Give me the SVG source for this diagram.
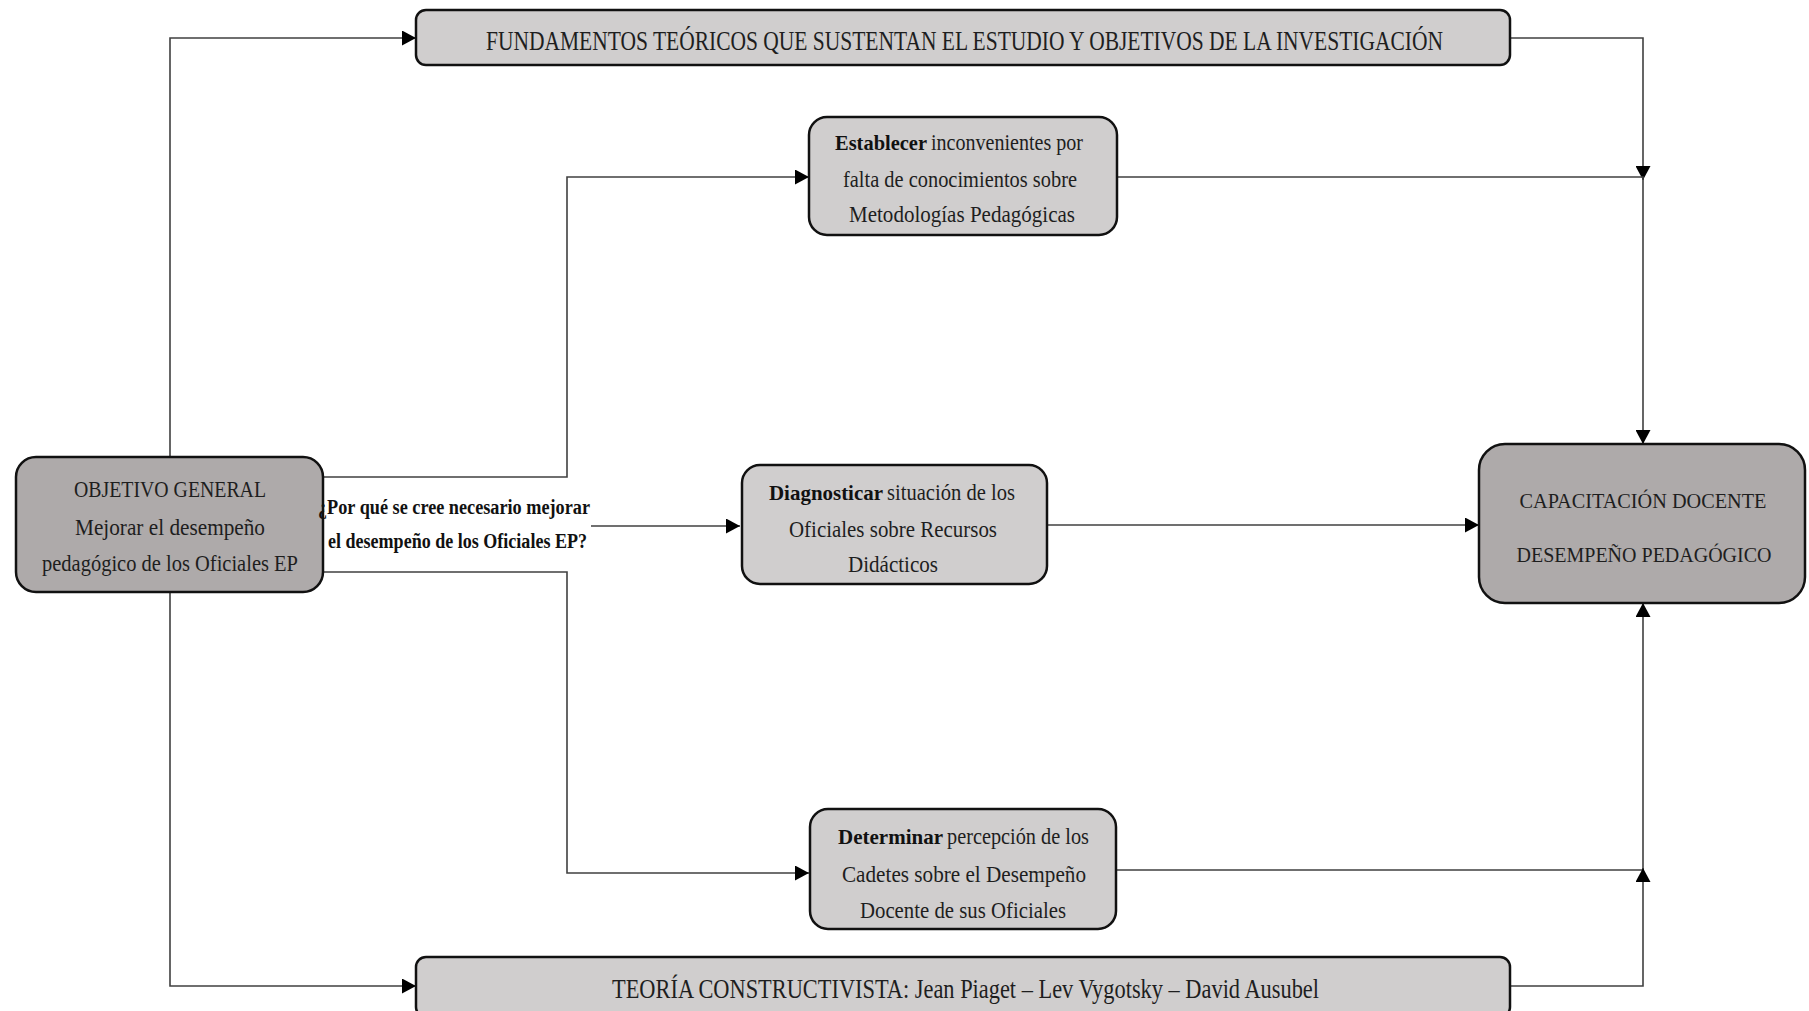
<svg xmlns="http://www.w3.org/2000/svg" width="1809" height="1011" viewBox="0 0 1809 1011">
<style>
  .light { fill: #d0cece; stroke: #111; stroke-width: 2.5; }
  .dark { fill: #aeaaaa; stroke: #111; stroke-width: 2.5; }
  .t { font-family: "Liberation Serif", "DejaVu Serif", serif; fill: #1e1e1e; }
  .caps { font-size: 27px; }
  .body { font-size: 23px; }
  .bw { font-size: 21px; font-weight: bold; fill: #111; }
  .b { font-weight: bold; fill: #111; }
  .conn { fill: none; stroke: #404040; stroke-width: 1.6; }
</style>
<defs>
  <marker id="arr" markerUnits="userSpaceOnUse" markerWidth="15" markerHeight="15" refX="14" refY="7.5" orient="auto">
    <path d="M0,0 L14,7.5 L0,15 z" fill="#000"/>
  </marker>
</defs>
<rect width="1809" height="1011" fill="#fff"/>

<g id="connectors">
  <path class="conn" d="M170,457 V38 H416" marker-end="url(#arr)"/>
  <path class="conn" d="M170,592 V986 H416" marker-end="url(#arr)"/>
  <path class="conn" d="M323,477 H567 V177 H809" marker-end="url(#arr)"/>
  <path class="conn" d="M591,526 H740" marker-end="url(#arr)"/>
  <path class="conn" d="M323,572 H567 V873 H809" marker-end="url(#arr)"/>
  <path class="conn" d="M1510,38 H1643 V180" marker-end="url(#arr)"/>
  <path class="conn" d="M1117,177 H1643 V444" marker-end="url(#arr)"/>
  <path class="conn" d="M1047,525 H1479" marker-end="url(#arr)"/>
  <path class="conn" d="M1117,870 H1643 V603" marker-end="url(#arr)"/>
  <path class="conn" d="M1510,986 H1643 V868" marker-end="url(#arr)"/>
</g>

<g id="node-fundamentos">
  <rect class="light" x="416" y="10" width="1094" height="55" rx="10"/>
  <text class="t caps" x="486" y="50" textLength="957" lengthAdjust="spacingAndGlyphs">FUNDAMENTOS TEÓRICOS QUE SUSTENTAN EL ESTUDIO  Y OBJETIVOS DE LA INVESTIGACIÓN</text>
</g>

<g id="node-establecer">
  <rect class="light" x="809" y="117" width="308" height="118" rx="18"/>
  <text class="t bw" x="835" y="150" textLength="92" lengthAdjust="spacingAndGlyphs">Establecer</text>
  <text class="t body" x="931" y="150" textLength="152" lengthAdjust="spacingAndGlyphs">inconvenientes por</text>
  <text class="t body" x="843" y="187" textLength="234" lengthAdjust="spacingAndGlyphs">falta de conocimientos sobre</text>
  <text class="t body" x="849" y="222" textLength="226" lengthAdjust="spacingAndGlyphs">Metodologías Pedagógicas</text>
</g>

<g id="node-diagnosticar">
  <rect class="light" x="742" y="465" width="305" height="119" rx="18"/>
  <text class="t bw" x="769" y="500" textLength="114" lengthAdjust="spacingAndGlyphs">Diagnosticar</text>
  <text class="t body" x="887" y="500" textLength="128" lengthAdjust="spacingAndGlyphs">situación de los</text>
  <text class="t body" x="789" y="537" textLength="208" lengthAdjust="spacingAndGlyphs">Oficiales  sobre Recursos</text>
  <text class="t body" x="848" y="572" textLength="90" lengthAdjust="spacingAndGlyphs">Didácticos</text>
</g>

<g id="node-determinar">
  <rect class="light" x="810" y="809" width="306" height="120" rx="18"/>
  <text class="t bw" x="838" y="844" textLength="105" lengthAdjust="spacingAndGlyphs">Determinar</text>
  <text class="t body" x="947" y="844" textLength="142" lengthAdjust="spacingAndGlyphs">percepción de los</text>
  <text class="t body" x="842" y="882" textLength="244" lengthAdjust="spacingAndGlyphs">Cadetes sobre el Desempeño</text>
  <text class="t body" x="860" y="918" textLength="206" lengthAdjust="spacingAndGlyphs">Docente de sus Oficiales</text>
</g>

<g id="node-teoria">
  <rect class="light" x="416" y="957" width="1094" height="60" rx="10"/>
  <text class="t caps" x="612" y="998" textLength="707" lengthAdjust="spacingAndGlyphs">TEORÍA CONSTRUCTIVISTA:  Jean Piaget – Lev Vygotsky – David Ausubel</text>
</g>

<g id="node-objetivo">
  <rect class="dark" x="16" y="457" width="307" height="135" rx="20"/>
  <text class="t body" x="74" y="497" textLength="192" lengthAdjust="spacingAndGlyphs">OBJETIVO  GENERAL</text>
  <text class="t body" x="75" y="535" textLength="190" lengthAdjust="spacingAndGlyphs">Mejorar el desempeño</text>
  <text class="t body" x="42" y="571" textLength="256" lengthAdjust="spacingAndGlyphs">pedagógico de los Oficiales EP</text>
</g>

<g id="node-capacitacion">
  <rect class="dark" x="1479" y="444" width="326" height="159" rx="26"/>
  <text class="t" font-size="22" x="1643" y="508" text-anchor="middle" textLength="247" lengthAdjust="spacingAndGlyphs">CAPACITACIÓN DOCENTE</text>
  <text class="t" font-size="22" x="1644" y="562" text-anchor="middle" textLength="255" lengthAdjust="spacingAndGlyphs">DESEMPEÑO PEDAGÓGICO</text>
</g>

<g id="label-pregunta">
  <text class="t b" x="318" y="514" font-size="20" textLength="272" lengthAdjust="spacingAndGlyphs">¿Por qué  se cree necesario mejorar</text>
  <text class="t b" x="328" y="548" font-size="20" textLength="259" lengthAdjust="spacingAndGlyphs">el desempeño de los Oficiales EP?</text>
</g>
</svg>
